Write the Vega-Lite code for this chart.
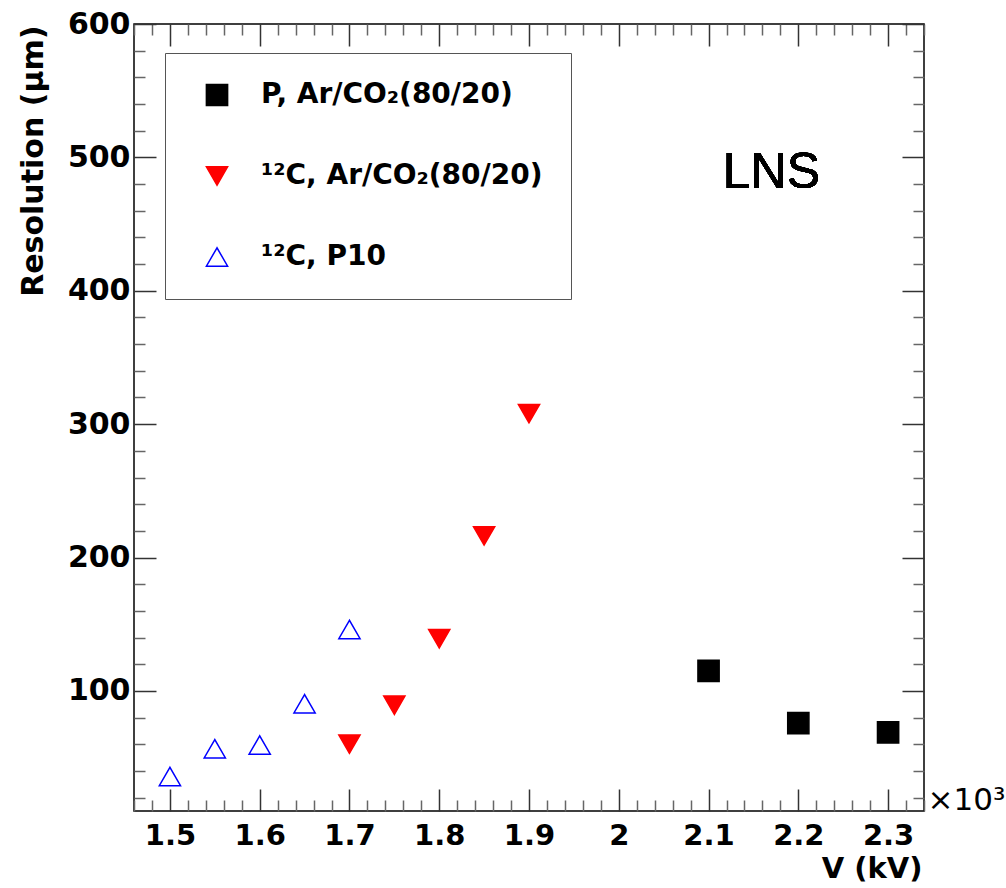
{
  "$schema": "https://vega.github.io/schema/vega-lite/v6.json",
  "autosize": "none",
  "width": 790,
  "height": 787,
  "padding": {"left": 134, "top": 24, "right": 82, "bottom": 77},
  "background": "white",
  "config": {
    "view": {"stroke": "black", "strokeWidth": 1.5},
    "axis": {"domain": false, "grid": false, "tickWidth": 1.5, "tickColor": "#444"}
  },
  "data": {
    "values": [
      {"series": "P, Ar/CO₂(80/20)", "V": 2.1, "res": 115.1},
      {"series": "P, Ar/CO₂(80/20)", "V": 2.2, "res": 75.8},
      {"series": "P, Ar/CO₂(80/20)", "V": 2.3, "res": 68.9},
      {"series": "¹²C, Ar/CO₂(80/20)", "V": 1.7, "res": 60.1},
      {"series": "¹²C, Ar/CO₂(80/20)", "V": 1.75, "res": 89.3},
      {"series": "¹²C, Ar/CO₂(80/20)", "V": 1.8, "res": 139.1},
      {"series": "¹²C, Ar/CO₂(80/20)", "V": 1.85, "res": 216.3},
      {"series": "¹²C, Ar/CO₂(80/20)", "V": 1.9, "res": 307.9},
      {"series": "¹²C, P10", "V": 1.5, "res": 35.9},
      {"series": "¹²C, P10", "V": 1.55, "res": 56.7},
      {"series": "¹²C, P10", "V": 1.6, "res": 59.5},
      {"series": "¹²C, P10", "V": 1.65, "res": 90.4},
      {"series": "¹²C, P10", "V": 1.7, "res": 146.1}
    ]
  },
  "resolve": {"axis": {"x": "independent", "y": "independent"}, "scale": {"x": "shared", "y": "shared"}},
  "layer": [
    {
      "mark": {"type": "point", "filled": false, "strokeWidth": 1.5, "size": 450, "opacity": 1},
      "encoding": {
        "x": {
          "field": "V", "type": "quantitative",
          "scale": {"domain": [1.46, 2.34], "nice": false, "zero": false},
          "axis": {
            "orient": "bottom",
            "values": [1.5, 1.6, 1.7, 1.8, 1.9, 2.0, 2.1, 2.2, 2.3],
            "labelExpr": "'' + datum.value",
            "tickSize": -22, "tickColor": "#333",
            "labelPadding": 32,
            "labelFont": "DejaVu Sans", "labelFontWeight": "bold", "labelFontSize": 29, "labelColor": "black",
            "title": "V (kV)",
            "titleFont": "DejaVu Sans", "titleFontWeight": "bold", "titleFontSize": 29, "titleColor": "black",
            "titleAlign": "right", "titleBaseline": "alphabetic", "titleAngle": 0,
            "titleX": 788, "titleY": 66
          }
        },
        "y": {
          "field": "res", "type": "quantitative",
          "scale": {"domain": [10, 600], "nice": false, "zero": false},
          "axis": {
            "orient": "left",
            "values": [100, 200, 300, 400, 500, 600],
            "labelExpr": "'' + datum.value",
            "tickSize": -22, "tickColor": "#333",
            "labelPadding": 26,
            "labelFont": "DejaVu Sans", "labelFontWeight": "bold", "labelFontSize": 30, "labelColor": "black",
            "title": "Resolution (μm)",
            "titleFont": "DejaVu Sans", "titleFontWeight": "bold", "titleFontSize": 30, "titleColor": "black",
            "titleAngle": 270, "titleAlign": "right", "titleBaseline": "alphabetic",
            "titleX": -92, "titleY": 1
          }
        },
        "shape": {
          "field": "series", "type": "nominal",
          "scale": {"domain": ["P, Ar/CO₂(80/20)", "¹²C, Ar/CO₂(80/20)", "¹²C, P10"], "range": ["square", "triangle-down", "triangle-up"]},
          "legend": {
            "title": null,
            "orient": "none", "legendX": 31, "legendY": 29,
            "padding": 28, "symbolOffset": 10, "labelOffset": 30, "rowPadding": 53,
            "symbolSize": 450,
            "labelFont": "DejaVu Sans", "labelFontWeight": "bold", "labelFontSize": 28, "labelColor": "black",
            "labelLimit": 400,
            "strokeColor": "#555", "fillColor": "white"
          }
        },
        "fill": {
          "field": "series", "type": "nominal",
          "scale": {"domain": ["P, Ar/CO₂(80/20)", "¹²C, Ar/CO₂(80/20)", "¹²C, P10"], "range": ["black", "red", "transparent"]}
        },
        "stroke": {
          "field": "series", "type": "nominal",
          "scale": {"domain": ["P, Ar/CO₂(80/20)", "¹²C, Ar/CO₂(80/20)", "¹²C, P10"], "range": ["black", "red", "blue"]}
        }
      }
    },
    {
      "mark": {"type": "point", "opacity": 0},
      "encoding": {
        "x": {
          "field": "V", "type": "quantitative",
          "scale": {"domain": [1.46, 2.34], "nice": false, "zero": false},
          "axis": {
            "orient": "bottom",
            "values": [1.46, 1.48, 1.52, 1.54, 1.56, 1.58, 1.62, 1.64, 1.66, 1.68, 1.72, 1.74, 1.76, 1.78, 1.82, 1.84, 1.86, 1.88, 1.92, 1.94, 1.96, 1.98, 2.02, 2.04, 2.06, 2.08, 2.12, 2.14, 2.16, 2.18, 2.22, 2.24, 2.26, 2.28, 2.32, 2.34],
            "tickSize": -11, "tickColor": "#666",
            "labels": false,
            "title": "×10³",
            "titleFont": "DejaVu Sans", "titleFontWeight": "normal", "titleFontSize": 31, "titleColor": "black",
            "titleAlign": "left", "titleBaseline": "alphabetic", "titleAngle": 0,
            "titleX": 793, "titleY": -2
          }
        },
        "y": {
          "field": "res", "type": "quantitative",
          "scale": {"domain": [10, 600], "nice": false, "zero": false},
          "axis": {
            "orient": "left",
            "values": [20, 40, 60, 80, 120, 140, 160, 180, 220, 240, 260, 280, 320, 340, 360, 380, 420, 440, 460, 480, 520, 540, 560, 580],
            "tickSize": -11, "tickColor": "#666",
            "labels": false,
            "title": null
          }
        }
      }
    },
    {
      "mark": {"type": "point", "opacity": 0},
      "encoding": {
        "x": {
          "field": "V", "type": "quantitative",
          "scale": {"domain": [1.46, 2.34], "nice": false, "zero": false},
          "axis": {
            "orient": "top",
            "values": [1.5, 1.6, 1.7, 1.8, 1.9, 2.0, 2.1, 2.2, 2.3],
            "tickSize": -22, "tickColor": "#333",
            "labels": false,
            "title": null
          }
        },
        "y": {
          "field": "res", "type": "quantitative",
          "scale": {"domain": [10, 600], "nice": false, "zero": false},
          "axis": {
            "orient": "right",
            "values": [100, 200, 300, 400, 500, 600],
            "tickSize": -22, "tickColor": "#333",
            "labels": false,
            "title": null
          }
        }
      }
    },
    {
      "mark": {"type": "point", "opacity": 0},
      "encoding": {
        "x": {
          "field": "V", "type": "quantitative",
          "scale": {"domain": [1.46, 2.34], "nice": false, "zero": false},
          "axis": {
            "orient": "top",
            "values": [1.46, 1.48, 1.52, 1.54, 1.56, 1.58, 1.62, 1.64, 1.66, 1.68, 1.72, 1.74, 1.76, 1.78, 1.82, 1.84, 1.86, 1.88, 1.92, 1.94, 1.96, 1.98, 2.02, 2.04, 2.06, 2.08, 2.12, 2.14, 2.16, 2.18, 2.22, 2.24, 2.26, 2.28, 2.32, 2.34],
            "tickSize": -11, "tickColor": "#666",
            "labels": false,
            "title": null
          }
        },
        "y": {
          "field": "res", "type": "quantitative",
          "scale": {"domain": [10, 600], "nice": false, "zero": false},
          "axis": {
            "orient": "right",
            "values": [20, 40, 60, 80, 120, 140, 160, 180, 220, 240, 260, 280, 320, 340, 360, 380, 420, 440, 460, 480, 520, 540, 560, 580],
            "tickSize": -11, "tickColor": "#666",
            "labels": false,
            "title": null
          }
        }
      }
    },
    {
      "mark": {"type": "text", "font": "Liberation Sans", "fontSize": 50, "fontWeight": "normal", "align": "center", "baseline": "middle", "color": "black"},
      "encoding": {
        "x": {"datum": 2.17, "type": "quantitative", "scale": {"domain": [1.46, 2.34], "nice": false, "zero": false}, "axis": null},
        "y": {"datum": 488, "type": "quantitative", "scale": {"domain": [10, 600], "nice": false, "zero": false}, "axis": null},
        "text": {"value": "LNS"}
      }
    }
  ]
}
